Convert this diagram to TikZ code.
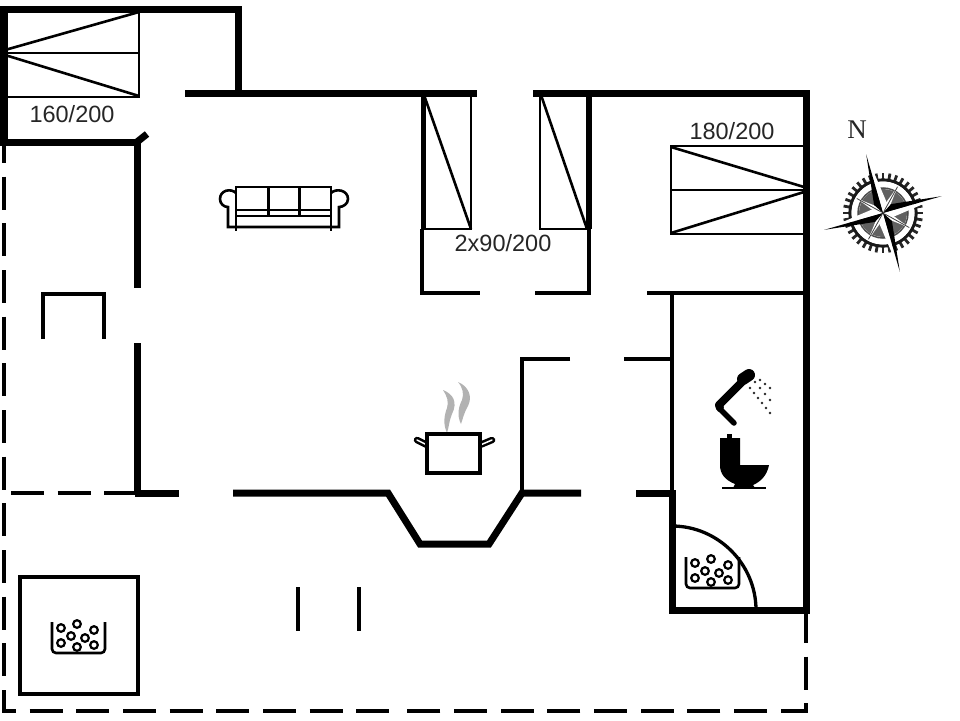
\documentclass[tikz,border=0pt]{standalone}
\usepackage{fontspec}
\setmainfont{Liberation Sans}
\newfontfamily\northfont{Liberation Serif}
\tikzset{
    outerwall/.style={line width=7pt, line cap=butt, line join=miter},
    innerwall/.style={line width=3.6pt},
    thinline/.style={line width=2.6pt},
    fixture/.style={line width=3.3pt},
    openside/.style={line width=3.4pt, dash pattern=on 33pt off 13.67pt},
    bedlabel/.style={align=center, text=black!85, font=\fontsize{23.5}{26}\selectfont},
    stones/.pic={
        \draw[line width=2.6pt, rounded corners=4pt] (0,0) -- (0,31) -- (53,31) -- (53,0);
        \foreach \sx/\sy in {9/6, 25/2, 42/8, 19/14, 33/16, 9/21, 25/25, 42/23}
            \draw[line width=2.2pt, fill=white] (\sx,\sy) circle (3.8);
    }
}
\begin{document}
\begin{tikzpicture}[x=1pt, y=-1pt]
    \useasboundingbox (0,0) rectangle (960,720);
    % open sides
    \draw[openside] (4,130) -- (4,711) -- (400,711);
    \draw[openside] (806,610) -- (806,711) -- (403,711);
    \draw[openside] (11,493) -- (135,493);
    % beds
    \draw[thinline] (5,10) rectangle (139,97);
    \draw[thinline] (5,53) -- (139,53);
    \draw[thinline] (5,50) -- (139,12);
    \draw[thinline] (5,55) -- (139,96);
    \draw[thinline] (671,146) rectangle (804,234);
    \draw[thinline] (671,190) -- (804,190);
    \draw[thinline] (804,187) -- (671,147);
    \draw[thinline] (804,192) -- (671,233);
    \draw[thinline] (422,94) rectangle (471,229);
    \draw[thinline] (424,95) -- (471,229);
    \draw[thinline] (540,94) rectangle (587,229);
    \draw[thinline] (541,95) -- (587,229);
    % walls
    \draw[outerwall] (238,92) -- (238,9) -- (4,9) -- (4,142) -- (137,142) -- (137,288);
    \draw[outerwall] (137,142) -- (147,134);
    \draw[outerwall] (185,93) -- (477,93);
    \draw[outerwall] (533,93) -- (806,93) -- (806,610) -- (672,610) -- (672,493) -- (636,493);
    \draw[outerwall] (137,343) -- (137,493);
    \draw[outerwall] (135,493) -- (179,493);
    \draw[outerwall] (233,493) -- (388,493) -- (420,544) -- (489,544) -- (522,493) -- (581,493);
    \draw[line width=5pt] (423,93) -- (423,229);
    \draw[line width=5pt] (589,93) -- (589,229);
    \draw[innerwall] (422,229) -- (422,293) -- (480,293);
    \draw[innerwall] (535,293) -- (589,293) -- (589,229);
    \draw[innerwall] (647,293) -- (806,293);
    \draw[fixture] (672,291) -- (672,493);
    \draw[fixture] (570,359) -- (522,359) -- (522,493);
    \draw[fixture] (624,359) -- (672,359);
    \draw[fixture] (672,526) .. controls (718,526) and (756,564) .. (756,610);
    % steps, hearth and sauna
    \draw[fixture] (298,587) -- (298,631);
    \draw[fixture] (359,587) -- (359,631);
    \draw[fixture] (43,339) -- (43,294) -- (104,294) -- (104,339);
    \draw[line width=3.6pt] (20,577) rectangle (138,694);
    \pic at (52,622) {stones};
    \pic at (686,557) {stones};
    % sofa
    \draw[thinline] (236,187) rectangle (331,216);
    \draw[line width=3pt] (268,187) -- (268,216);
    \draw[line width=3pt] (299,187) -- (299,216);
    \draw[thinline] (236,210) -- (331,210);
    \draw[thinline] (236,193) .. controls (231,188) and (220,190) .. (220,199) .. controls (220,204) and (224,207) .. (228,207) -- (228,227) -- (339,227) -- (339,207) .. controls (343,207) and (348,204) .. (348,199) .. controls (348,190) and (336,188) .. (331,193);
    \draw[thinline] (236,216) -- (236,231);
    \draw[thinline] (331,216) -- (331,231);
    % pot
    \fill[black!30] (443,390) .. controls (453,394) and (458,402) .. (452,414) .. controls (449,421) and (449,427) .. (447,433) .. controls (443,424) and (444,416) .. (447,408) .. controls (449,402) and (447,396) .. (443,390);
    \fill[black!30] (458,382) .. controls (468,386) and (473,396) .. (468,406) .. controls (464,413) and (463,418) .. (461,424) .. controls (457,416) and (458,408) .. (462,400) .. controls (464,394) and (463,388) .. (458,382);
    \draw[line width=6.5pt, line cap=round] (427,445) -- (417,440);
    \draw[line width=1.5pt, line cap=round, white] (429,446) -- (417,440);
    \draw[line width=6.5pt, line cap=round] (480,445) -- (492,440);
    \draw[line width=1.5pt, line cap=round, white] (478,446) -- (492,440);
    \draw[line width=3.3pt, fill=white] (427,434) rectangle (480,473);
    % shower
    \draw[line width=5.5pt, line cap=round] (720,409) -- (734,423);
    \draw[line width=8pt, line cap=round, line join=round] (720,408) -- (719,405) -- (745,379);
    \draw[line width=12pt, line cap=round] (743,379) -- (749,375);
    \foreach \dn in {0,...,5}
        \fill[black!85] ({750+\dn*4}, {388+\dn*5}) circle (1.4);
    \foreach \dn in {0,...,3}
        \fill[black!85] ({755+\dn*5}, {382+\dn*6}) circle (1.4);
    \foreach \dn in {0,...,2}
        \fill[black!85] ({760+\dn*5}, {380+\dn*4}) circle (1.4);
    % toilet
    \fill (720,438) -- (740,438) -- (740,465) -- (769,465) .. controls (767,476) and (760,482) .. (753,485) -- (755,488) -- (733,488) -- (735,484) .. controls (725,480) and (720,474) .. (720,465) -- cycle;
    \fill (727,434) rectangle (732,439);
    \draw[thinline] (722,488) -- (766,488);
    % compass
    \node[align=center, text=black!85, font=\northfont\fontsize{27}{29}\selectfont] (north) at (857,130) {N};
    \begin{scope}[shift={(883,213)}]
        \foreach \a in {0,10,...,350}
            \draw[line width=2.8pt, black!85] (\a:33) -- (\a:40);
        \draw[line width=3.2pt, black!90] (0,0) circle (33);
        \fill[white] (0,0) circle (31.5);
        \draw[line width=1.5pt, black!70] (0,0) circle (25);
        \fill[black!62] (0,0) circle (24);
        \foreach \a in {29,119,209,299} {
            \fill[white] (0,0) -- (\a-18:9) -- (\a:30) -- (\a+18:9) -- cycle;
            \draw[line width=0.8pt, black!75] (0,0) -- (\a:30);
        }
        \foreach \a in {-16,74,164,254} {
            \fill[white] (0,0) -- (\a:61) -- (\a+32:12) -- cycle;
            \fill[black] (0,0) -- (\a:61) -- (\a-32:12) -- cycle;
        }
    \end{scope}
    % bed sizes
    \node[bedlabel] (doublebed) at (72,114) {160/200};
    \node[bedlabel] (bunkbed) at (503,243) {2x90/200};
    \node[bedlabel] (largebed) at (732,131) {180/200};
\end{tikzpicture}
\end{document}
